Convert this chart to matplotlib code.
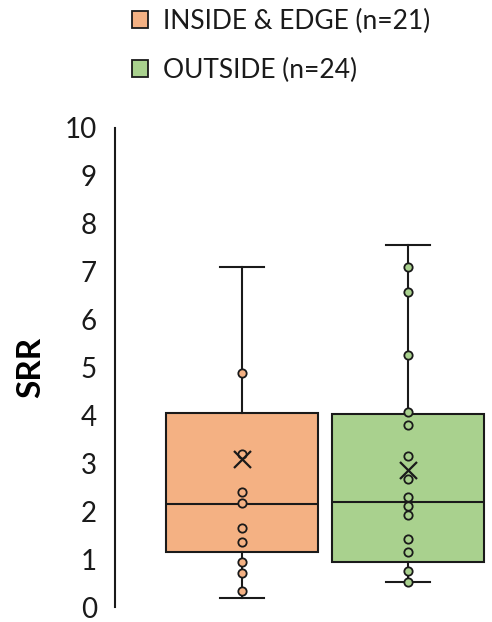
import matplotlib
matplotlib.use("Agg")
import matplotlib.pyplot as plt
from matplotlib.patches import Patch

plt.rcParams['font.family'] = ['Lato', 'DejaVu Sans']

# Groups and colours
groups = ["INSIDE & EDGE (n=21)", "OUTSIDE (n=24)"]
colors = ["#F4B183", "#A9D18E"]

# Box summary per group
whisker_low = [0.19, 0.53]
q1 = [1.15, 0.93]
medians = [2.16, 2.19]
q3 = [4.05, 4.02]
whisker_high = [7.09, 7.55]
means = [3.10, 2.85]

# Individual SRR values shown as dots
inside_points = [4.88, 3.20, 2.40, 2.17, 1.65, 1.35, 0.93, 0.72, 0.34]
outside_points = [7.09, 6.58, 5.26, 4.07, 3.81, 3.15, 2.68, 2.29, 2.10, 1.92,
                  1.42, 1.14, 0.75, 0.53]
points = [inside_points, outside_points]

y_ticks = list(range(0, 11))

fig = plt.figure(figsize=(4.92, 6.22), dpi=100)
ax = fig.add_axes([115 / 492, 1 - 607 / 622, 377 / 492, 479 / 622])

stats = []
for i in range(2):
    stats.append(dict(whislo=whisker_low[i], q1=q1[i], med=medians[i],
                      q3=q3[i], whishi=whisker_high[i], fliers=[]))

positions = [1, 2]
bp = ax.bxp(stats, positions=positions, widths=0.91, patch_artist=True,
            showfliers=False,
            boxprops=dict(linewidth=1.5, edgecolor="#1a1a1a"),
            medianprops=dict(color="#1a1a1a", linewidth=1.5),
            whiskerprops=dict(color="#1a1a1a", linewidth=1.5),
            capprops=dict(color="#1a1a1a", linewidth=1.5),
            capwidths=0.27)
for patch, c in zip(bp['boxes'], colors):
    patch.set_facecolor(c)

for pos, pts, c in zip(positions, points, colors):
    ax.scatter([pos] * len(pts), pts, s=36, facecolor=c, edgecolor="#1a1a1a",
               linewidth=1.3, zorder=4)

ax.scatter(positions, means, marker="x", s=150, color="#1a1a1a",
           linewidth=1.6, zorder=5)

ax.set_xlim(0.235, 2.506)
ax.set_ylim(0, 10)
ax.set_yticks(y_ticks)
ax.set_xticks([])
ax.tick_params(axis="y", length=0, pad=13, labelsize=20, labelcolor="#1a1a1a")
for side in ["top", "right", "bottom"]:
    ax.spines[side].set_visible(False)
ax.spines["left"].set_linewidth(1.5)
ax.spines["left"].set_color("#1a1a1a")
ax.set_ylabel("SRR", fontsize=24, fontweight="bold", labelpad=14)

handles = [Patch(facecolor=c, edgecolor="#1a1a1a", linewidth=1.3) for c in colors]
fig.legend(handles, groups, loc="upper left", bbox_to_anchor=(108 / 492, 1.024),
           frameon=False, fontsize=19, handlelength=0.6, handleheight=0.6,
           handletextpad=0.57, labelspacing=0.9, labelcolor="#1a1a1a")

fig.savefig("out.png", dpi=100)
